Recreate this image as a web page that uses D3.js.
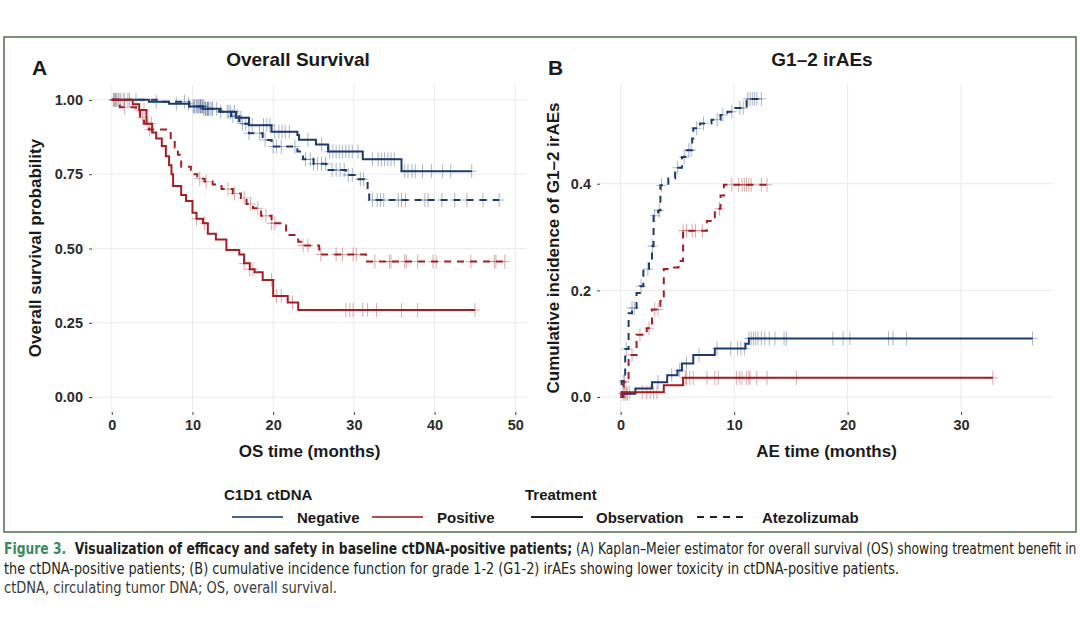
<!DOCTYPE html>
<html>
<head>
<meta charset="utf-8">
<script src="https://cdn.jsdelivr.net/npm/d3@7"></script>
<style>
  body { margin: 0; background: #fff; }
  svg { display: block; }
  .lab { font-family: "Liberation Sans", Arial, sans-serif; font-weight: bold; fill: #1a1a1a; }
  .tick text { font-family: "Liberation Sans", Arial, sans-serif; font-weight: bold; font-size: 14.5px; fill: #2b2b2b; }
</style>
</head>
<body>
<svg id="fig" width="1080" height="632"></svg>
<script>
// ---- Panel A: overall survival (time in months, survival prob) ----
const osNegObsT = [0, 4.6, 7.1, 9.6, 11.3, 13.5, 15.4, 17.0, 19.8, 23.0, 23.2, 25.3, 26.8, 31.1, 35.9];
const osNegObsS = [1, 0.994, 0.987, 0.978, 0.97, 0.96, 0.94, 0.915, 0.893, 0.882, 0.866, 0.85, 0.826, 0.80, 0.76];
const osNegObsEnd = 44.6;
const osNegObsCens = [0.2, 0.6, 1.1, 1.6, 3.0, 5.5, 8.0, 9.5, 10.1, 10.3, 10.5, 10.8, 11.0, 11.2, 11.4, 11.6, 11.8, 11.9, 12.0, 12.2, 12.5, 13.5, 14.5, 15.2, 16.0, 17.4, 18.8, 19.2, 19.6, 20.2, 20.7, 21.1, 21.5, 22.0, 24.3, 26.0, 27.0, 27.4, 27.8, 28.2, 28.6, 29.0, 29.4, 29.8, 30.5, 32.3, 33.0, 33.4, 33.8, 34.2, 34.6, 35.0, 36.3, 36.7, 37.2, 37.6, 38.5, 39.6, 41.0, 42.0, 44.6];

const osNegAtzT = [0, 6.0, 9.6, 11.5, 13.3, 14.8, 15.8, 17.0, 18.7, 19.8, 23.0, 23.7, 25.0, 26.6, 29.0, 30.3, 31.3, 31.7, 31.9];
const osNegAtzS = [1, 0.994, 0.978, 0.97, 0.96, 0.945, 0.92, 0.888, 0.865, 0.843, 0.826, 0.80, 0.785, 0.764, 0.747, 0.733, 0.72, 0.686, 0.663];
const osNegAtzEnd = 48.0;
const osNegAtzCens = [0.4, 0.9, 2.0, 9.0, 10.2, 10.6, 10.8, 11.0, 11.2, 11.4, 11.6, 11.9, 12.4, 13.0, 14.3, 14.7, 15.0, 15.6, 16.2, 16.6, 17.0, 18.3, 19.0, 20.0, 20.4, 21.0, 22.7, 24.0, 24.6, 25.0, 25.5, 26.0, 26.5, 27.3, 27.8, 28.3, 28.8, 29.3, 29.8, 30.8, 31.2, 32.3, 32.9, 33.3, 33.7, 35.5, 35.9, 36.4, 38.8, 39.2, 40.9, 42.5, 44.0, 46.0, 48.0];

const osPosObsT = [0, 2.6, 3.4, 4.3, 5.0, 5.5, 6.2, 6.7, 7.1, 7.4, 7.6, 8.6, 9.2, 10.0, 10.5, 11.3, 11.9, 12.9, 14.2, 15.8, 16.4, 17.1, 17.7, 18.7, 20.0, 21.8, 23.1];
const osPosObsS = [1, 0.985, 0.966, 0.92, 0.89, 0.87, 0.845, 0.81, 0.78, 0.75, 0.71, 0.68, 0.66, 0.62, 0.60, 0.585, 0.55, 0.53, 0.495, 0.48, 0.45, 0.43, 0.42, 0.394, 0.34, 0.318, 0.293];
const osPosObsEnd = 45.0;
const osPosObsCens = [0.5, 1.4, 2.2, 3.4, 4.0, 4.5, 4.9, 10.5, 11.5, 16.4, 17.1, 17.5, 19.8, 20.4, 21.0, 22.4, 29.0, 29.5, 29.9, 31.1, 31.7, 32.8, 35.9, 37.9, 45.0];

const osPosAtzT = [0, 1.0, 3.0, 3.5, 4.0, 4.6, 7.3, 7.8, 8.2, 8.6, 9.8, 10.6, 11.5, 12.5, 13.6, 15.0, 16.0, 16.7, 17.5, 18.5, 19.8, 21.6, 23.1, 23.7, 25.7, 31.5];
const osPosAtzS = [1, 0.975, 0.96, 0.94, 0.92, 0.90, 0.865, 0.84, 0.815, 0.775, 0.75, 0.735, 0.725, 0.715, 0.70, 0.685, 0.67, 0.65, 0.635, 0.61, 0.585, 0.545, 0.523, 0.51, 0.48, 0.456];
const osPosAtzEnd = 48.7;
const osPosAtzCens = [0.3, 0.8, 1.6, 3.8, 4.7, 10.9, 11.7, 14.4, 15.2, 16.4, 17.2, 18.1, 19.1, 19.8, 20.2, 23.7, 24.3, 25.9, 27.8, 28.6, 29.9, 30.3, 32.6, 34.4, 34.6, 36.3, 36.5, 37.9, 39.8, 40.2, 44.5, 47.4, 47.6, 48.7];

// ---- Panel B: cumulative incidence of G1-2 irAEs ----
const aeNegObsT = [0, 0.1, 1.3, 2.76, 4.1, 5.0, 5.4, 6.4, 8.3, 11.0, 11.3];
const aeNegObsV = [0, 0.006, 0.016, 0.028, 0.041, 0.05, 0.063, 0.079, 0.091, 0.10, 0.11];
const aeNegObsEnd = 36.3;
const aeNegObsCens = [0.2, 0.4, 0.6, 3.3, 4.5, 5.2, 5.8, 6.9, 8.5, 9.7, 10.3, 10.6, 10.9, 11.3, 11.5, 11.7, 11.9, 12.1, 12.4, 12.7, 13.1, 13.6, 14.4, 14.6, 18.7, 19.6, 20.2, 23.6, 24.0, 25.2, 36.3];

const aeNegAtzT = [0, 0.1, 0.4, 0.7, 1.0, 1.4, 1.7, 2.0, 2.5, 2.76, 2.9, 3.3, 3.5, 4.2, 4.8, 5.4, 5.7, 6.3, 6.4, 7.0, 8.0, 8.8, 9.4, 10.1, 11.0, 11.1];
const aeNegAtzV = [0, 0.03, 0.09, 0.157, 0.167, 0.195, 0.208, 0.24, 0.255, 0.283, 0.34, 0.35, 0.397, 0.41, 0.43, 0.45, 0.463, 0.485, 0.504, 0.513, 0.52, 0.529, 0.535, 0.542, 0.545, 0.559];
const aeNegAtzEnd = 12.4;
const aeNegAtzCens = [0.3, 0.5, 1.0, 1.2, 1.8, 2.4, 2.8, 3.0, 3.4, 3.6, 5.0, 5.6, 6.0, 6.2, 6.7, 7.3, 8.5, 9.0, 9.8, 10.5, 10.8, 11.2, 11.4, 11.6, 11.8, 12.0, 12.4];

const aePosObsT = [0, 0.1, 3.8, 5.5];
const aePosObsV = [0, 0.009, 0.022, 0.036];
const aePosObsEnd = 32.8;
const aePosObsCens = [0.3, 0.5, 0.8, 1.9, 2.3, 2.6, 2.9, 3.2, 5.7, 5.8, 6.1, 6.4, 7.6, 8.3, 8.6, 10.2, 10.5, 10.7, 11.1, 11.3, 11.4, 12.0, 12.9, 15.5, 32.8];

const aePosAtzT = [0, 0.26, 0.7, 1.4, 2.3, 2.76, 3.5, 3.8, 4.4, 5.1, 5.5, 7.6, 8.3, 8.8, 9.1];
const aePosAtzV = [0, 0.028, 0.079, 0.117, 0.129, 0.164, 0.18, 0.24, 0.243, 0.255, 0.312, 0.33, 0.353, 0.378, 0.398];
const aePosAtzEnd = 13.0;
const aePosAtzCens = [0.3, 1.0, 1.7, 2.5, 3.0, 3.3, 5.5, 5.8, 6.3, 6.6, 7.2, 8.7, 9.8, 10.4, 10.7, 10.9, 11.1, 11.3, 11.5, 12.4, 12.9];

const osXTicks = [0, 10, 20, 30, 40, 50];
const osYTicks = [0, 0.25, 0.5, 0.75, 1];
const aeXTicks = [0, 10, 20, 30];
const aeYTicks = [0, 0.2, 0.4];

const ctdnaLevels = ["Negative", "Positive"];
const treatLevels = ["Observation", "Atezolizumab"];

const colour = {Negative: "#1d3c6e", Positive: "#a31f24"};
const dash = {Observation: null, Atezolizumab: "7,6"};

const svg = d3.select("#fig");

// outer frame
svg.append("rect")
    .attr("x", 4).attr("y", 37).attr("width", 1072).attr("height", 495)
    .attr("fill", "none").attr("stroke", "#4f6e48").attr("stroke-width", 1.5);

function stepValue(ts, vs, t) {
    const i = d3.bisectRight(ts, t) - 1;
    return vs[Math.max(0, i)];
}

function drawPanel(p) {
    const g = svg.append("g");
    const x = d3.scaleLinear().domain(p.xDomain).range([p.left, p.right]);
    const y = d3.scaleLinear().domain(p.yDomain).range([p.bottom, p.top]);

    // grid
    g.selectAll(".gx").data(p.xTicks).join("line")
        .attr("x1", d => x(d)).attr("x2", d => x(d))
        .attr("y1", p.top).attr("y2", p.bottom)
        .attr("stroke", "#ebebeb").attr("stroke-width", 1);
    g.selectAll(".gy").data(p.yTicks).join("line")
        .attr("y1", d => y(d)).attr("y2", d => y(d))
        .attr("x1", p.left).attr("x2", p.right)
        .attr("stroke", "#ebebeb").attr("stroke-width", 1);

    // axes
    const ax = g.append("g").attr("transform", `translate(0,${p.bottom})`)
        .call(d3.axisBottom(x).tickValues(p.xTicks).tickSize(3).tickPadding(5).tickFormat(d3.format("d")));
    const ay = g.append("g").attr("transform", `translate(${p.left},0)`)
        .call(d3.axisLeft(y).tickValues(p.yTicks).tickSize(3).tickPadding(6).tickFormat(d3.format(p.yFmt)));
    [ax, ay].forEach(a => {
        a.select(".domain").remove();
        a.selectAll(".tick line").attr("stroke", "#444");
    });

    // curves
    const line = d3.line().x(d => x(d[0])).y(d => y(d[1])).curve(d3.curveStepAfter);
    p.series.forEach(s => {
        const pts = s.t.map((t, i) => [t, s.v[i]]);
        pts.push([s.end, s.v[s.v.length - 1]]);
        g.append("path").datum(pts)
            .attr("d", line)
            .attr("fill", "none")
            .attr("stroke", colour[s.ctdna])
            .attr("stroke-width", 2)
            .attr("stroke-dasharray", dash[s.treat]);

        const cg = g.append("g")
            .attr("stroke", colour[s.ctdna])
            .attr("stroke-opacity", 0.38)
            .attr("stroke-width", 1);
        cg.selectAll("path").data(s.cens).join("path")
            .attr("d", c => {
                const cx = x(c), cy = y(stepValue(s.t, s.v, c));
                return `M${cx - 5},${cy}H${cx + 5}M${cx},${cy - 7}V${cy + 7}`;
            });
    });

    // labels
    g.append("text").attr("class", "lab")
        .attr("x", p.titleX).attr("y", 66).attr("text-anchor", "middle")
        .style("font-size", "19px").text(p.title);
    g.append("text").attr("class", "lab")
        .attr("x", p.letterX).attr("y", 75)
        .style("font-size", "21px").text(p.letter);
    g.append("text").attr("class", "lab")
        .attr("x", (p.left + p.right) / 2).attr("y", 457).attr("text-anchor", "middle")
        .style("font-size", "17px").text(p.xLabel);
    g.append("text").attr("class", "lab")
        .attr("transform", `translate(${p.yLabelX},248) rotate(-90)`)
        .attr("text-anchor", "middle")
        .style("font-size", "17px").text(p.yLabel);
}

drawPanel({
    left: 92, right: 527, top: 85, bottom: 412,
    xDomain: [-2.45, 51.45], yDomain: [-0.05, 1.05],
    xTicks: osXTicks, yTicks: osYTicks, yFmt: ".2f",
    title: "Overall Survival", titleX: 298, letter: "A", letterX: 32,
    xLabel: "OS time (months)", yLabel: "Overall survival probability", yLabelX: 41,
    series: [
        {ctdna: "Negative", treat: "Observation", t: osNegObsT, v: osNegObsS, end: osNegObsEnd, cens: osNegObsCens},
        {ctdna: "Negative", treat: "Atezolizumab", t: osNegAtzT, v: osNegAtzS, end: osNegAtzEnd, cens: osNegAtzCens},
        {ctdna: "Positive", treat: "Observation", t: osPosObsT, v: osPosObsS, end: osPosObsEnd, cens: osPosObsCens},
        {ctdna: "Positive", treat: "Atezolizumab", t: osPosAtzT, v: osPosAtzS, end: osPosAtzEnd, cens: osPosAtzCens}
    ]
});

drawPanel({
    left: 600, right: 1053, top: 84, bottom: 412,
    xDomain: [-1.82, 38.1], yDomain: [-0.028, 0.587],
    xTicks: aeXTicks, yTicks: aeYTicks, yFmt: ".1f",
    title: "G1\u20132 irAEs", titleX: 822, letter: "B", letterX: 548,
    xLabel: "AE time (months)", yLabel: "Cumulative incidence of G1\u20132 irAEs", yLabelX: 559,
    series: [
        {ctdna: "Negative", treat: "Observation", t: aeNegObsT, v: aeNegObsV, end: aeNegObsEnd, cens: aeNegObsCens},
        {ctdna: "Negative", treat: "Atezolizumab", t: aeNegAtzT, v: aeNegAtzV, end: aeNegAtzEnd, cens: aeNegAtzCens},
        {ctdna: "Positive", treat: "Observation", t: aePosObsT, v: aePosObsV, end: aePosObsEnd, cens: aePosObsCens},
        {ctdna: "Positive", treat: "Atezolizumab", t: aePosAtzT, v: aePosAtzV, end: aePosAtzEnd, cens: aePosAtzCens}
    ]
});

// legend
const leg = svg.append("g");
leg.append("text").attr("class", "lab").attr("x", 224).attr("y", 500).style("font-size", "15px").text("C1D1 ctDNA");
leg.append("text").attr("class", "lab").attr("x", 525).attr("y", 500).style("font-size", "15px").text("Treatment");

const ctdnaKeyX = [232, 372];
ctdnaLevels.forEach((lv, i) => {
    leg.append("line").attr("x1", ctdnaKeyX[i]).attr("x2", ctdnaKeyX[i] + 51)
        .attr("y1", 517).attr("y2", 517)
        .attr("stroke", colour[lv]).attr("stroke-opacity", 0.8).attr("stroke-width", 2);
    leg.append("text").attr("class", "lab").attr("x", ctdnaKeyX[i] + 65).attr("y", 522.5)
        .style("font-size", "15px").text(lv);
});
const treatKeyX = [531, 697];
treatLevels.forEach((lv, i) => {
    leg.append("line").attr("x1", treatKeyX[i]).attr("x2", treatKeyX[i] + 52)
        .attr("y1", 517).attr("y2", 517)
        .attr("stroke", "#222").attr("stroke-width", 2)
        .attr("stroke-dasharray", dash[lv]);
    leg.append("text").attr("class", "lab").attr("x", treatKeyX[i] + 65).attr("y", 522.5)
        .style("font-size", "15px").text(lv);
});

// caption
const capFont = '"Liberation Sans Narrow", "DejaVu Sans Condensed", "Open Sans", sans-serif';
const capLines = [
    {y: 554, w: 1073, parts: [
        {t: "Figure 3.  ", c: "#3b8a62", b: true},
        {t: "Visualization of efficacy and safety in baseline ctDNA-positive patients;", c: "#231f20", b: true},
        {t: " (A) Kaplan\u2013Meier estimator for overall survival (OS) showing treatment benefit in", c: "#231f20", b: false}]},
    {y: 574, w: 896, parts: [
        {t: "the ctDNA-positive patients; (B) cumulative incidence function for grade 1-2 (G1-2) irAEs showing lower toxicity in ctDNA-positive patients.", c: "#231f20", b: false}]},
    {y: 593, w: 333, parts: [
        {t: "ctDNA, circulating tumor DNA; OS, overall survival.", c: "#3a3a3a", b: false}]}
];
capLines.forEach(l => {
    const tx = svg.append("text").attr("x", 0).attr("y", 0)
        .style("font-family", capFont).style("font-size", "15px");
    l.parts.forEach(p => {
        tx.append("tspan").text(p.t).attr("fill", p.c)
            .style("font-weight", p.b ? "bold" : "normal")
            .attr("xml:space", "preserve");
    });
    tx.style("white-space", "pre");
    const w = tx.node().getComputedTextLength();
    tx.attr("transform", `translate(4,${l.y}) scale(${l.w / w},1)`);
});
</script>
</body>
</html>
